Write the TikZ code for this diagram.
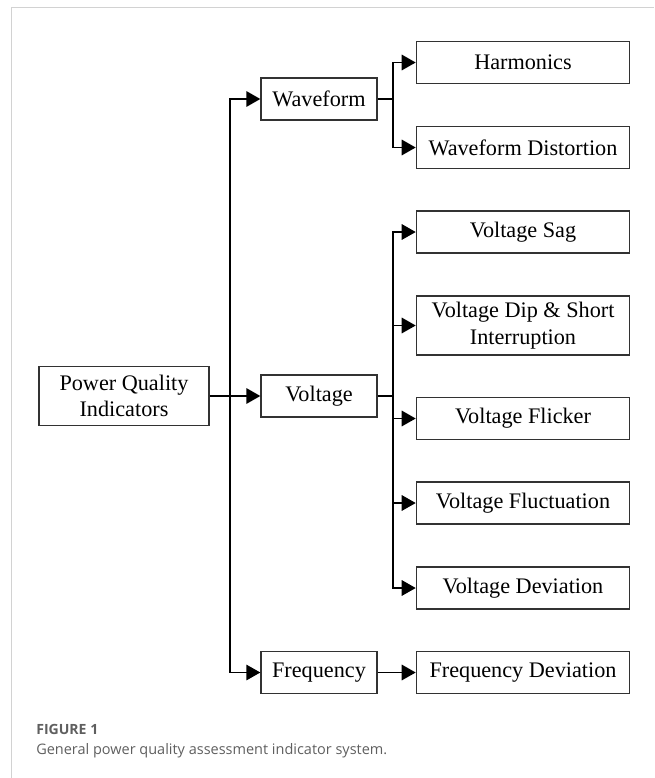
\documentclass[tikz,border=0pt]{standalone}
\usepackage{fontspec}
\setmainfont{Liberation Serif}
\newfontfamily\capfont{Open Sans}
\usepackage{tikz}
\usetikzlibrary{arrows.meta, positioning}
\definecolor{framegray}{RGB}{210, 210, 210}
\definecolor{capgray}{RGB}{95, 95, 95}
\definecolor{boxline}{RGB}{50, 50, 50}

\begin{document}
\begin{tikzpicture}[x=0.025cm, y=-0.025cm,
        box/.style={draw=boxline, line width=0.9pt, minimum height=1.05cm, inner sep=1pt, align=center, font=\fontsize{15.8}{19}\selectfont},
        leaf/.style={box, minimum width=5.33cm},
        mid/.style={box, minimum width=2.9cm},
        arr/.style={-{Triangle[length=10pt, width=11pt]}, line width=1.3pt},
        conn/.style={line width=1.3pt}
      ]
        \useasboundingbox (0,0) rectangle (654,778);
        \draw[framegray, line width=1.1pt] (11.5,778) -- (11.5,7.5) -- (654,7.5);

        \node[box, minimum width=4.25cm, minimum height=1.475cm] (root) at (124,396) {Power Quality\\Indicators};

        \node[mid] (wave) at (319,99) {Waveform};
        \node[mid] (volt) at (319,396) {Voltage};
        \node[mid] (freq) at (319,672.5) {Frequency};

        \node[leaf] (harm) at (523,62.5) {Harmonics};
        \node[leaf] (wdist) at (523,147.5) {Waveform Distortion};
        \node[leaf] (sag) at (523,232) {Voltage Sag};
        \node[leaf, minimum height=1.475cm] (dip) at (523,325.5) {Voltage Dip \& Short\\Interruption};
        \node[leaf] (flick) at (523,418.5) {Voltage Flicker};
        \node[leaf] (fluct) at (523,503) {Voltage Fluctuation};
        \node[leaf] (vdev) at (523,588) {Voltage Deviation};
        \node[leaf] (fdev) at (523,672.5) {Frequency Deviation};

        % trunk and branch lines
        \coordinate (tr) at (230,396);
        \coordinate (brw) at (393,99);
        \coordinate (brv) at (393,396);

        \draw[arr] (root) -- (volt);
        \draw[arr] (tr) |- (wave);
        \draw[arr] (tr) |- (freq);

        \draw[conn] (wave) -- (brw);
        \draw[arr] (brw) |- (harm);
        \draw[arr] (brw) |- (wdist);

        \draw[conn] (volt) -- (brv);
        \foreach \n in {sag, dip, flick, fluct, vdev}
          \draw[arr] (brv) |- (\n);

        \draw[arr] (freq) -- (fdev);

        \node[anchor=base west, inner sep=0pt, text=capgray, font=\capfont\fontsize{10}{12}\selectfont\bfseries] (fig) at (36,734) {FIGURE 1};
        \node[anchor=base west, inner sep=0pt, text=capgray, font=\capfont\fontsize{10.3}{12}\selectfont] (cap) at (36,754) {General power quality assessment indicator system.};
      \end{tikzpicture}
\end{document}
